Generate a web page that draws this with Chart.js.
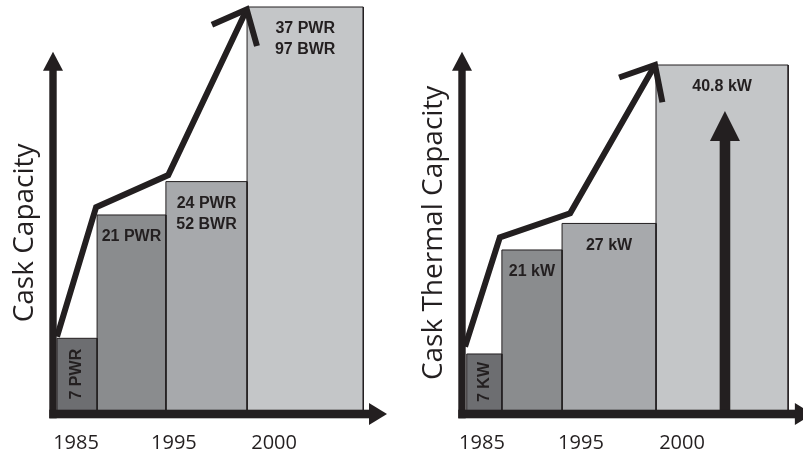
<!DOCTYPE html>
<html>
<head>
<meta charset="utf-8">
<script src="https://cdn.jsdelivr.net/npm/chart.js@4.4.1/dist/chart.umd.min.js"></script>
<style>
  html, body { margin: 0; padding: 0; background: #fff; }
  canvas { position: absolute; top: 0; }
  #capacityChart { left: 0; }
  #thermalChart { left: 400px; }
</style>
</head>
<body>
<canvas id="capacityChart" width="400" height="455"></canvas>
<canvas id="thermalChart" width="403" height="455"></canvas>
<script>
// x tick labels (shared by both panels)
const years = ['1985', '1995', '2000'];

// left panel: cask capacity (relative units)
const capacityEdges = [1.2, 13.2, 33.8, 58.1, 92.9];
const capacityHeights = [18.6, 48.9, 57.1, 100];
const capacityLabels = [['7 PWR'], ['21 PWR'], ['24 PWR', '52 BWR'], ['37 PWR', '97 BWR']];
const capacityTrendX = [1.2, 12.9, 34.5, 58.0];
const capacityTrendY = [19.0, 50.8, 58.7, 99.4];
const capacityYearPos = [6.9, 36.2, 66.2];

// right panel: cask thermal capacity
const thermalEdges = [1.4, 11.8, 29.6, 57.4, 96.5];
const thermalHeights = [17.2, 47.0, 54.6, 100];
const thermalLabels = [['7 KW'], ['21 kW'], ['27 kW'], ['40.8 kW']];
const thermalTrendX = [0.9, 11.2, 32.0, 57.1];
const thermalTrendY = [19.3, 50.6, 57.5, 100];
const thermalYearPos = [5.9, 35.2, 65.1];

const barGrays = ['#6d6e71', '#8a8c8e', '#a7a9ac', '#c4c6c8'];
const ink = '#231f20';

function triangle(ctx, a, b, c) {
    ctx.beginPath();
    ctx.moveTo(a[0], a[1]);
    ctx.lineTo(b[0], b[1]);
    ctx.lineTo(c[0], c[1]);
    ctx.closePath();
    ctx.fill();
}

function makeDecor(p) {
    return {
        id: 'caskDecor',
        afterDatasetsDraw(chart) {
            const ctx = chart.ctx;
            const x = chart.scales.x, y = chart.scales.y;
            const x0 = x.getPixelForValue(0), y0 = y.getPixelForValue(0);
            ctx.save();
            ctx.fillStyle = ink;
            ctx.strokeStyle = ink;

            // upward arrow inside the last bar
            if (p.innerArrow) {
                const ax = x.getPixelForValue(p.innerArrow.x);
                const tip = y.getPixelForValue(p.innerArrow.tip);
                ctx.fillRect(ax - 5.3, tip + 28, 10.6, y0 - tip - 28);
                triangle(ctx, [ax, tip], [ax - 15, tip + 30], [ax + 15, tip + 30]);
            }

            // y axis arrow
            const yTop = y.getPixelForValue(p.yAxisEnd);
            ctx.fillRect(x0 - 3.7, yTop + 18, 7.4, y0 + 4.3 - yTop - 18);
            triangle(ctx, [x0, yTop], [x0 - 10, yTop + 19], [x0 + 10, yTop + 19]);

            // x axis arrow
            const xEnd = x.getPixelForValue(p.xAxisEnd);
            ctx.fillRect(x0 - 3.7, y0 - 4.3, xEnd - 17 - x0 + 3.7, 8.6);
            triangle(ctx, [xEnd, y0], [xEnd - 18, y0 - 11], [xEnd - 18, y0 + 11]);

            // arrowhead on the trend line
            const pts = chart.getDatasetMeta(0).data;
            const tip = pts[pts.length - 1], from = pts[pts.length - 2];
            const ang = Math.atan2(from.y - tip.y, from.x - tip.x);
            const spread = 41 * Math.PI / 180, len = 38;
            ctx.lineWidth = 6;
            ctx.lineJoin = 'miter';
            ctx.miterLimit = 10;
            ctx.beginPath();
            ctx.moveTo(tip.x + len * Math.cos(ang - spread), tip.y + len * Math.sin(ang - spread));
            ctx.lineTo(tip.x, tip.y);
            ctx.lineTo(tip.x + len * Math.cos(ang + spread), tip.y + len * Math.sin(ang + spread));
            ctx.stroke();
            ctx.restore();
        },
        afterDraw(chart) {
            const ctx = chart.ctx;
            const x = chart.scales.x, y = chart.scales.y;
            const area = chart.chartArea;
            ctx.save();
            ctx.fillStyle = ink;

            // bar labels
            ctx.font = 'bold 16px "Liberation Sans", Arial, sans-serif';
            ctx.textAlign = 'center';
            ctx.textBaseline = 'middle';
            p.labels.forEach((lines, i) => {
                const cx = (x.getPixelForValue(p.edges[i]) + x.getPixelForValue(p.edges[i + 1])) / 2;
                const top = y.getPixelForValue(p.heights[i]);
                if (i === 0) {
                    const cy = (top + y.getPixelForValue(0)) / 2 - 2;
                    ctx.save();
                    ctx.translate(cx, cy);
                    ctx.rotate(-Math.PI / 2);
                    ctx.fillText(lines[0], 0, 0);
                    ctx.restore();
                } else {
                    lines.forEach((t, j) => ctx.fillText(t, cx, top + 22 + j * 21));
                }
            });

            // year labels
            ctx.font = '20px "Open Sans", sans-serif';
            ctx.textBaseline = 'alphabetic';
            years.forEach((t, i) => {
                ctx.fillText(t, x.getPixelForValue(p.yearPos[i]), area.bottom + 35);
            });

            // axis title
            const x0 = x.getPixelForValue(0);
            const midY = (y.getPixelForValue(0) + y.getPixelForValue(p.yAxisEnd)) / 2;
            ctx.font = '28px "Open Sans", sans-serif';
            ctx.translate(x0 - 20, midY);
            ctx.rotate(-Math.PI / 2);
            ctx.fillText(p.title, 0, 0);
            ctx.restore();
        }
    };
}

function makeChart(id, p, padding) {
    const datasets = [{
        data: p.trendX.map((v, i) => ({ x: v, y: p.trendY[i] })),
        borderColor: ink,
        borderWidth: 6,
        borderJoinStyle: 'miter',
        pointRadius: 0,
        fill: false,
        clip: false,
    }];
    p.heights.forEach((h, i) => {
        datasets.push({
            data: [
                { x: p.edges[i], y: 0 },
                { x: p.edges[i], y: h },
                { x: p.edges[i + 1], y: h },
                { x: p.edges[i + 1], y: 0 },
            ],
            backgroundColor: barGrays[i],
            borderColor: ink,
            borderWidth: 1,
            pointRadius: 0,
            fill: 'origin',
            clip: false,
        });
    });

    return new Chart(document.getElementById(id), {
        type: 'line',
        data: { datasets: datasets },
        options: {
            responsive: false,
            animation: false,
            devicePixelRatio: 1,
            layout: { padding: padding },
            scales: {
                x: { type: 'linear', min: 0, max: 100, display: false },
                y: { type: 'linear', min: 0, max: 100, display: false },
            },
            plugins: {
                legend: { display: false },
                tooltip: { enabled: false },
            },
        },
        plugins: [makeDecor(p)],
    });
}

makeChart('capacityChart', {
    edges: capacityEdges,
    heights: capacityHeights,
    labels: capacityLabels,
    trendX: capacityTrendX,
    trendY: capacityTrendY,
    yearPos: capacityYearPos,
    title: 'Cask Capacity',
    yAxisEnd: 89,
    xAxisEnd: 100,
}, { left: 53, right: 13, top: 7, bottom: 41 });

makeChart('thermalChart', {
    edges: thermalEdges,
    heights: thermalHeights,
    labels: thermalLabels,
    trendX: thermalTrendX,
    trendY: thermalTrendY,
    yearPos: thermalYearPos,
    title: 'Cask Thermal Capacity',
    yAxisEnd: 103.8,
    xAxisEnd: 103.8,
    innerArrow: { x: 77.8, tip: 86.8 },
}, { left: 62, right: 3, top: 65, bottom: 41 });
</script>
</body>
</html>
